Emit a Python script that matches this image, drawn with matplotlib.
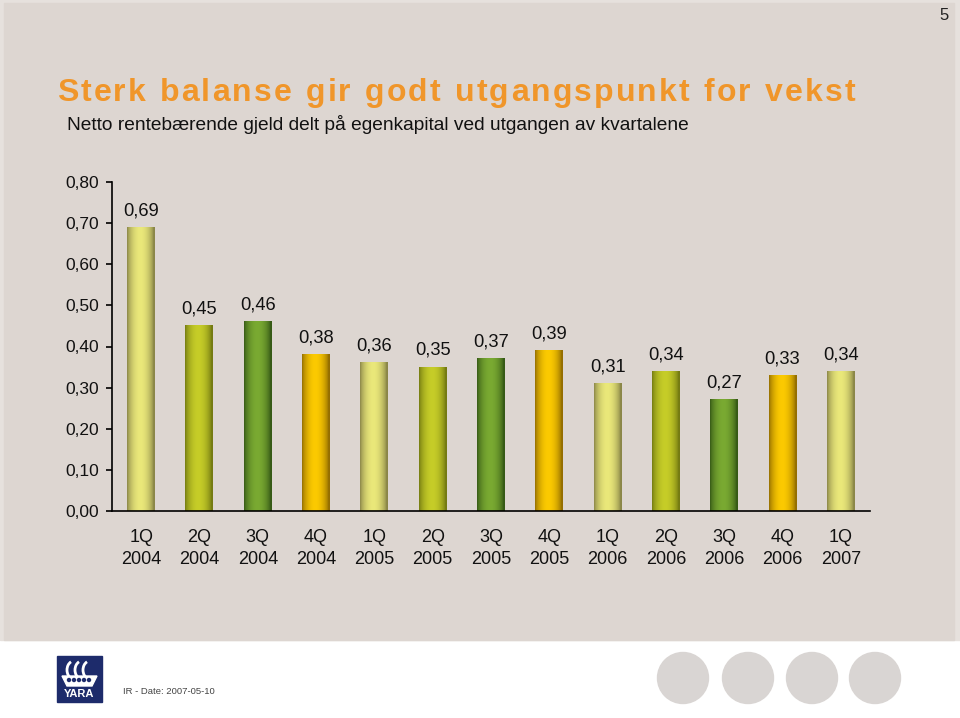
import numpy as np
import matplotlib
matplotlib.use("Agg")
import matplotlib.pyplot as plt
from matplotlib.patches import Rectangle, Ellipse, Arc, Polygon
from matplotlib.textpath import TextToPath
from matplotlib.font_manager import FontProperties

plt.rcParams['font.family'] = ['Liberation Sans', 'DejaVu Sans']

# data
quarters = ['1Q\n2004', '2Q\n2004', '3Q\n2004', '4Q\n2004',
            '1Q\n2005', '2Q\n2005', '3Q\n2005', '4Q\n2005',
            '1Q\n2006', '2Q\n2006', '3Q\n2006', '4Q\n2006',
            '1Q\n2007']
gearing = [0.69, 0.45, 0.46, 0.38, 0.36, 0.35, 0.37, 0.39,
           0.31, 0.34, 0.27, 0.33, 0.34]
value_labels = ['0,69', '0,45', '0,46', '0,38', '0,36', '0,35', '0,37', '0,39',
                '0,31', '0,34', '0,27', '0,33', '0,34']
y_ticks = [0.0, 0.1, 0.2, 0.3, 0.4, 0.5, 0.6, 0.7, 0.8]
y_tick_labels = ['0,00', '0,10', '0,20', '0,30', '0,40', '0,50', '0,60', '0,70', '0,80']

title = 'Sterk balanse gir godt utgangspunkt for vekst'
subtitle = 'Netto rentebærende gjeld delt på egenkapital ved utgangen av kvartalene'
footer = 'IR - Date: 2007-05-10'

# (light, dark) colour pairs for the cylinder shading, cycling every 4 bars
shades = [((234, 232, 122), (138, 134, 72)),
          ((198, 205, 40), (116, 122, 18)),
          ((122, 170, 50), (54, 90, 22)),
          ((252, 202, 0), (148, 110, 0))]

W, H = 960, 718
fig = plt.figure(figsize=(W / 100, H / 100), dpi=100)

# full-figure overlay in pixel coordinates for slide decoration
bg = fig.add_axes([0, 0, 1, 1])
bg.set_xlim(0, W)
bg.set_ylim(H, 0)
bg.axis('off')
bg.add_patch(Rectangle((0, 0), W, H, color='white', zorder=0))
bg.add_patch(Rectangle((0, 0), W, 640, color='#e6e1dd', zorder=1))
bg.add_patch(Rectangle((4, 3), 950, 637, color='#ddd6d1', zorder=2))

for cx in [683, 748, 812, 875]:
    bg.add_patch(Ellipse((cx, 678), 51, 51, color='#d9d5d3', zorder=2))

# Yara logo
bg.add_patch(Rectangle((57, 656), 45, 46, color='#1d2b6b', zorder=3))
for ax0 in [68, 76, 84]:
    bg.add_patch(Arc((ax0 + 6, 670), 14, 18, theta1=110, theta2=250,
                     color='white', lw=2, zorder=4))
bg.add_patch(Polygon([[62, 676], [97, 676], [92, 686], [67, 686]],
                     closed=True, color='white', zorder=4))
for dx in [69, 74, 79, 84, 89]:
    bg.add_patch(Ellipse((dx, 680), 3, 3, color='#1d2b6b', zorder=5))
bg.text(79.5, 694, 'YARA', color='white', fontsize=8, fontweight='bold',
        ha='center', va='center', zorder=5)

bg.text(123, 692, footer, fontsize=6.8, color='#444444', va='center', zorder=5)
bg.text(944, 16, '5', fontsize=12, color='#222222', ha='center', va='center', zorder=5)

# title with letter spacing, laid out character by character
fp = FontProperties(family='Liberation Sans', weight='bold', size=23)
ttp = TextToPath()
px_per_pt = 100 / 72
widths = []
for ch in title:
    w, h, d = ttp.get_text_width_height_descent(ch if ch != ' ' else 'n', fp, ismath=False)
    if ch == ' ':
        w = w * 0.5
    widths.append(w * px_per_pt)
x_start, x_end = 57, 855
track = (x_end - x_start - sum(widths)) / (len(title) - 1)
x = x_start
for ch, w in zip(title, widths):
    if ch != ' ':
        bg.text(x, 101, ch, fontproperties=fp, color='#f0962a',
                ha='left', va='baseline', zorder=5)
    x += w + track

bg.text(67, 125, subtitle, fontsize=13.8, color='#111111', va='center', zorder=5)

# chart
ax = fig.add_axes([112 / W, (H - 511) / H, (870 - 112) / W, (511 - 182) / H])
ax.patch.set_alpha(0)
xs = np.arange(len(gearing))
bw = 0.48

t = np.linspace(0, 1, 64)
prof = np.sin(np.pi * np.clip(t * 1.05, 0, 1)) ** 0.7
for i, (xv, yv) in enumerate(zip(xs, gearing)):
    light, dark = shades[i % 4]
    light = np.array(light) / 255
    dark = np.array(dark) / 255
    img = dark[None, :] + (light - dark)[None, :] * prof[:, None]
    ax.imshow(img[None, :, :], extent=[xv - bw / 2, xv + bw / 2, 0, yv],
              aspect='auto', interpolation='bilinear', zorder=2)
    ax.annotate(value_labels[i], (xv, yv), xytext=(0, 12), textcoords='offset points',
                ha='center', va='center', fontsize=13.2, color='#111111')

ax.set_xlim(-0.5, len(gearing) - 0.5)
ax.set_ylim(0, 0.8)
ax.set_xticks(xs)
ax.set_xticklabels(quarters, fontsize=13, linespacing=1.4, color='#111111')
ax.set_yticks(y_ticks)
ax.set_yticklabels(y_tick_labels, fontsize=12.5, color='#111111')
ax.tick_params(axis='x', length=0, pad=13)
ax.tick_params(axis='y', length=4.5, width=1.2, pad=5, direction='out')
for s in ['top', 'right']:
    ax.spines[s].set_visible(False)
ax.spines['left'].set_linewidth(1.2)
ax.spines['bottom'].set_linewidth(1.2)

fig.savefig('out.png', dpi=100)
